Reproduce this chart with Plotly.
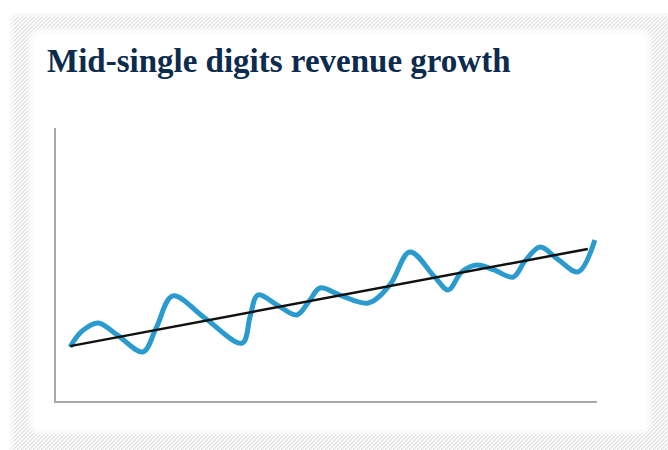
import plotly.graph_objects as go

# Revenue path (index) over time, with cyclical swings around the trend
period = [2.6, 4.8, 7.8, 11.3, 16.1, 18.5, 21.6, 27.5, 34.4, 35.9, 37.3, 41.0, 44.5, 46.8,
          48.8, 52.5, 57.7, 61.7, 65.4, 70.0, 72.5, 75.0, 77.8, 81.0, 84.5, 86.7, 89.5,
          92.7, 96.5, 99.6]
revenue = [19.8, 25.6, 28.6, 24.2, 18.0, 26.7, 38.5, 30.4, 21.2, 31.1, 38.8, 35.0, 31.5, 36.6,
           41.4, 38.8, 35.9, 42.5, 54.6, 45.4, 40.7, 47.3, 49.8, 48.0, 45.4, 51.3, 56.4,
           52.0, 47.3, 59.0]

# Underlying mid-single-digit growth trend
trend_period = [2.6, 98.3]
trend_value = [20.1, 55.7]

TITLE = "Mid-single digits revenue growth"

W, H = 668, 450
ML, MR, MT, MB = 56, 71, 128, 49
PW, PH = W - ML - MR, H - MT - MB


def to_paper(px, py):
    return (px - ML) / PW, (H - MB - py) / PH


def seg(p0, p1):
    a = to_paper(*p0)
    b = to_paper(*p1)
    return f"M{a[0]:.5f},{a[1]:.5f} L{b[0]:.5f},{b[1]:.5f} "


def rect(x0, y0, x1, y1, color, opacity=1.0):
    a = to_paper(x0, y0)
    b = to_paper(x1, y1)
    return dict(type="rect", xref="paper", yref="paper", layer="below",
                x0=a[0], y0=a[1], x1=b[0], y1=b[1],
                fillcolor=color, opacity=opacity, line=dict(width=0))


def rounded(x0, y0, x1, y1, r, color, opacity=1.0):
    pts = [
        ("M", (x0 + r, y0)), ("L", (x1 - r, y0)), ("Q", (x1, y0), (x1, y0 + r)),
        ("L", (x1, y1 - r)), ("Q", (x1, y1), (x1 - r, y1)),
        ("L", (x0 + r, y1)), ("Q", (x0, y1), (x0, y1 - r)),
        ("L", (x0, y0 + r)), ("Q", (x0, y0), (x0 + r, y0)),
    ]
    path = ""
    for item in pts:
        cmd = item[0]
        coords = " ".join("{:.5f},{:.5f}".format(*to_paper(*p)) for p in item[1:])
        path += f"{cmd}{coords} "
    path += "Z"
    return dict(type="path", xref="paper", yref="paper", layer="below", path=path,
                fillcolor=color, opacity=opacity, line=dict(width=0))


# Diagonal hatched frame
hatch = ""
for c in range(-460, W + 10, 4):
    hatch += seg((c, H + 5), (c + 460, H - 455))

shapes = [
    dict(type="path", xref="paper", yref="paper", layer="below", path=hatch,
         line=dict(color="#dadada", width=1.1)),
    rect(-5, -5, 10, H + 5, "white"),
    rect(-5, -5, W + 5, 13, "white"),
    rect(10, 13, 14, H + 5, "white", 0.5),
    rect(10, 13, W + 5, 17, "white", 0.5),
    rounded(28, 28, 652, 435, 13, "white", 0.4),
    rounded(30, 30, 650, 433, 12, "white", 0.55),
    rounded(33, 33, 647, 430, 10, "white"),
]

fig = go.Figure()
fig.add_trace(go.Scatter(
    x=period, y=revenue, mode="lines",
    line=dict(color="#2b9bcf", width=5, shape="spline", smoothing=1.0),
    hoverinfo="skip", showlegend=False,
))
fig.add_trace(go.Scatter(
    x=trend_period, y=trend_value, mode="lines",
    line=dict(color="#111111", width=2.5),
    hoverinfo="skip", showlegend=False,
))

axis_style = dict(showgrid=False, zeroline=False, showticklabels=False, ticks="",
                  showline=True, linecolor="#a8a8a8", linewidth=2, fixedrange=True)

fig.update_layout(
    width=W, height=H,
    margin=dict(l=ML, r=MR, t=MT, b=MB),
    paper_bgcolor="white",
    plot_bgcolor="rgba(0,0,0,0)",
    shapes=shapes,
    title=dict(
        text=f"<b>{TITLE}</b>",
        font=dict(family="Liberation Serif", size=33, color="#0c2b4d"),
        x=47 / W, xanchor="left", xref="container",
        y=1 - 60 / H, yanchor="middle", yref="container",
    ),
    xaxis=dict(range=[0, 100], **axis_style),
    yaxis=dict(range=[0, 100], **axis_style),
)

fig.write_html("out.html")
